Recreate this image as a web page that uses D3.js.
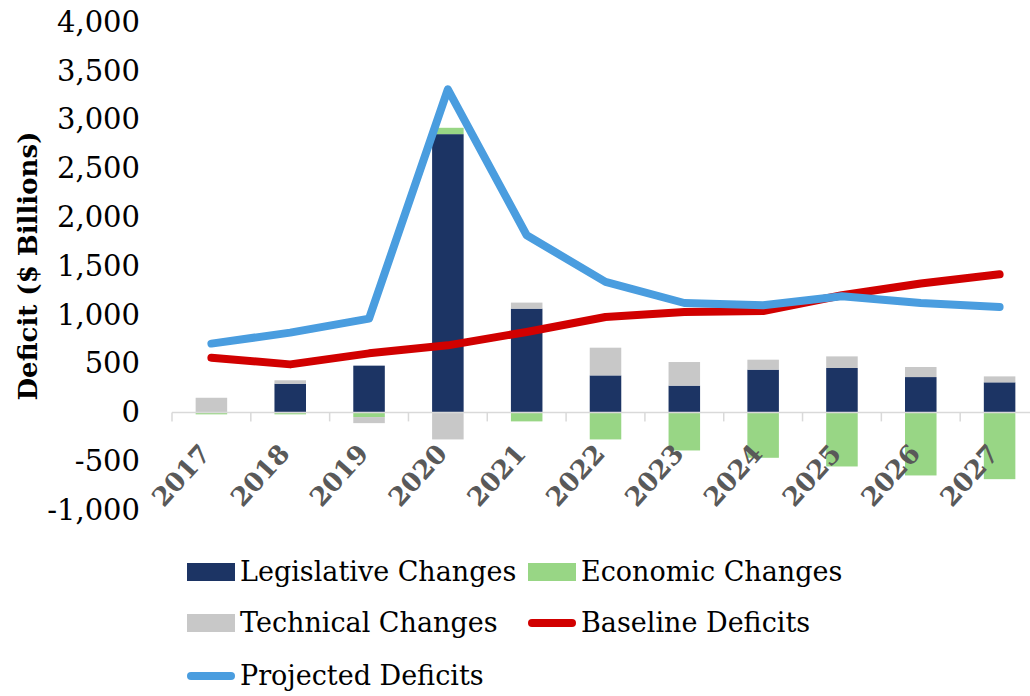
<!DOCTYPE html>
<html>
<head>
<meta charset="utf-8">
<script src="https://cdn.jsdelivr.net/npm/d3@7"></script>
<style>
  body { margin: 0; background: #fff; }
  text { font-family: "DejaVu Serif", "Liberation Serif", serif; }
</style>
</head>
<body>
<div class="chart"></div>
<script>
// chart data
var years = ["2017", "2018", "2019", "2020", "2021", "2022", "2023", "2024", "2025", "2026", "2027"];
var legislative = [0, 294, 479, 2851, 1063, 379, 274, 438, 455, 362, 308];
var economic = [-20, -20, -48, 65, -92, -277, -390, -465, -554, -646, -684];
var technical = [150, 35, -62, -277, 62, 284, 242, 102, 119, 103, 61];
var baseline = [561, 492, 605, 687, 824, 978, 1029, 1039, 1200, 1320, 1415];
var projected = [705, 817, 961, 3310, 1815, 1337, 1121, 1097, 1190, 1121, 1080];
var yTicks = [-1000, -500, 0, 500, 1000, 1500, 2000, 2500, 3000, 3500, 4000];

var svgWidth = 1030;
var svgHeight = 696;

var margin = { top: 22, right: -9, bottom: 186, left: 172 };
var width = svgWidth - margin.left - margin.right;
var height = svgHeight - margin.top - margin.bottom;

var svg = d3.select(".chart")
  .append("svg")
  .attr("width", svgWidth)
  .attr("height", svgHeight);

var chartGroup = svg.append("g")
  .attr("transform", `translate(${margin.left}, ${margin.top})`);

// scales
var xBand = d3.scaleBand()
  .domain(years)
  .range([0, width])
  .paddingInner(0.6)
  .paddingOuter(0.3);

var yLinearScale = d3.scaleLinear()
  .domain([-1000, 4000])
  .range([height, 0]);

// table for the stacked bars
var series = [
  { key: "legislative", label: "Legislative Changes", color: "#1c3464" },
  { key: "economic", label: "Economic Changes", color: "#98d685" },
  { key: "technical", label: "Technical Changes", color: "#c8c8c8" }
];
var table = years.map(function(y, i) {
  return { year: y, legislative: legislative[i], economic: economic[i], technical: technical[i] };
});

var stack = d3.stack()
  .keys(series.map(d => d.key))
  .offset(d3.stackOffsetDiverging);
var stacked = stack(table);

stacked.forEach(function(layer, li) {
  chartGroup.append("g")
    .attr("fill", series[li].color)
    .selectAll("rect")
    .data(layer)
    .enter()
    .append("rect")
    .attr("x", d => xBand(d.data.year))
    .attr("width", xBand.bandwidth())
    .attr("y", d => yLinearScale(Math.max(d[0], d[1])))
    .attr("height", d => Math.abs(yLinearScale(d[0]) - yLinearScale(d[1])));
});

// zero line and category ticks
chartGroup.append("line")
  .attr("x1", 0)
  .attr("x2", width)
  .attr("y1", yLinearScale(0))
  .attr("y2", yLinearScale(0))
  .attr("stroke", "#d9d9d9")
  .attr("stroke-width", 1.5);

var step = xBand.step();
chartGroup.selectAll(".cat-tick")
  .data(d3.range(years.length + 1))
  .enter()
  .append("line")
  .attr("x1", i => i * step)
  .attr("x2", i => i * step)
  .attr("y1", yLinearScale(0))
  .attr("y2", yLinearScale(0) + 9)
  .attr("stroke", "#d9d9d9")
  .attr("stroke-width", 1.5);

// lines
var line = d3.line()
  .x((d, i) => xBand(years[i]) + xBand.bandwidth() / 2)
  .y(d => yLinearScale(d));

chartGroup.append("path")
  .datum(baseline)
  .attr("d", line)
  .attr("fill", "none")
  .attr("stroke", "#d10000")
  .attr("stroke-width", 8)
  .attr("stroke-linejoin", "round")
  .attr("stroke-linecap", "round");

chartGroup.append("path")
  .datum(projected)
  .attr("d", line)
  .attr("fill", "none")
  .attr("stroke", "#4a9ddf")
  .attr("stroke-width", 8)
  .attr("stroke-linejoin", "round")
  .attr("stroke-linecap", "round");

// y axis labels (plain hyphen for negatives, like the original)
var fmt = d3.format(",");
var leftAxis = d3.axisLeft(yLinearScale)
  .tickValues(yTicks)
  .tickSize(0)
  .tickPadding(32)
  .tickFormat(d => fmt(d).replace("\u2212", "-"));

var yAxis = chartGroup.append("g").call(leftAxis);
yAxis.select(".domain").remove();
yAxis.selectAll("text")
  .attr("font-family", "DejaVu Serif")
  .attr("font-size", 29)
  .attr("fill", "#000");

// x labels, rotated
chartGroup.selectAll(".year-label")
  .data(years)
  .enter()
  .append("text")
  .attr("transform", d => `translate(${xBand(d) + xBand.bandwidth() / 2 - 6}, ${yLinearScale(0) + 36}) rotate(-48)`)
  .attr("text-anchor", "end")
  .attr("dy", "0.35em")
  .attr("font-size", 26)
  .attr("font-weight", "bold")
  .attr("fill", "#595959")
  .text(d => d);

// y axis title
svg.append("text")
  .attr("transform", `translate(37, ${margin.top + height / 2}) rotate(-90)`)
  .attr("text-anchor", "middle")
  .attr("font-size", 26)
  .attr("font-weight", "bold")
  .attr("fill", "#000")
  .text("Deficit ($ Billions)");

// legend
var legendItems = [
  { label: "Legislative Changes", color: "#1c3464", type: "rect", x: 187, y: 572 },
  { label: "Economic Changes", color: "#98d685", type: "rect", x: 528, y: 572 },
  { label: "Technical Changes", color: "#c8c8c8", type: "rect", x: 187, y: 623 },
  { label: "Baseline Deficits", color: "#d10000", type: "line", x: 528, y: 623 },
  { label: "Projected Deficits", color: "#4a9ddf", type: "line", x: 187, y: 676 }
];

var legend = svg.append("g");
legendItems.forEach(function(item) {
  if (item.type === "rect") {
    legend.append("rect")
      .attr("x", item.x)
      .attr("y", item.y - 9)
      .attr("width", 48)
      .attr("height", 18)
      .attr("fill", item.color);
  } else {
    legend.append("line")
      .attr("x1", item.x + 4)
      .attr("x2", item.x + 44)
      .attr("y1", item.y)
      .attr("y2", item.y)
      .attr("stroke", item.color)
      .attr("stroke-width", 8)
      .attr("stroke-linecap", "round");
  }
  legend.append("text")
    .attr("x", item.x + 53)
    .attr("y", item.y)
    .attr("dy", "0.35em")
    .attr("font-size", 27)
    .attr("fill", "#000")
    .text(item.label);
});
</script>
</body>
</html>
